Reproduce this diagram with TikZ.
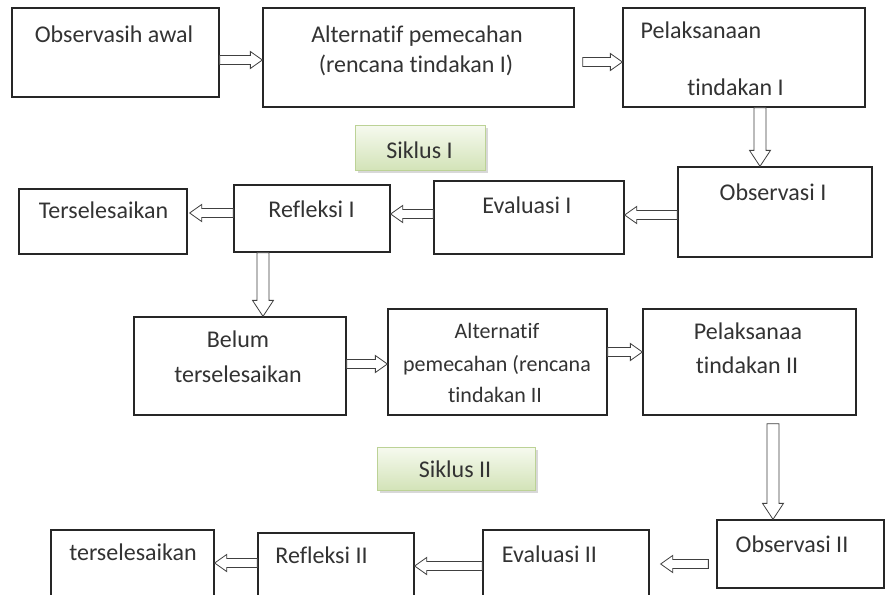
\documentclass[tikz,border=0pt]{standalone}
\usepackage{fontspec}
\setmainfont{Carlito}[Ligatures={NoCommon,NoRequired,NoContextual}]
\usetikzlibrary{calc,shadows}

\definecolor{hijauatas}{HTML}{F6FAEF}
\definecolor{hijaubawah}{HTML}{D3E3B8}
\definecolor{hijaugaris}{HTML}{BCD296}

\tikzset{
  kotak/.style={draw=black!85, line width=1.3pt, inner sep=0pt},
  siklus/.style={draw=hijaugaris, line width=1pt, top color=hijauatas,
    bottom color=hijaubawah, inner sep=0pt,
    drop shadow={shadow xshift=3pt, shadow yshift=-3pt, opacity=0.3}},
  teks/.style={anchor=base, inner sep=0pt, text=black!80,
    font=\fontsize{24}{29}\selectfont},
  tekskecil/.style={teks, font=\fontsize{22}{26}\selectfont},
  % hollow block arrow: half shaft, half head, head length
  panah/.style n args={3}{draw=black!75, fill=white, line width=0.8pt,
    to path={let \p1=($(\tikztotarget)!#3!(\tikztostart)$) in
      ($(\tikztostart)!#1!90:(\tikztotarget)$) -- ($(\p1)!#1!90:(\tikztotarget)$)
      -- ($(\p1)!#2!90:(\tikztotarget)$) -- (\tikztotarget)
      -- ($(\p1)!#2!-90:(\tikztotarget)$) -- ($(\p1)!#1!-90:(\tikztotarget)$)
      -- ($(\tikztostart)!#1!-90:(\tikztotarget)$) -- cycle}},
  panahh/.style={panah={4.5pt}{8.5pt}{12pt}},
  panahv/.style={panah={6pt}{10.5pt}{16pt}},
}

\begin{document}
\begin{tikzpicture}[x=1pt,y=-1pt]
    \clip (0,0) rectangle (885,594);
    \fill[white] (0,0) rectangle (885,594);

    % Siklus I boxes
    \node[kotak, minimum width=207pt, minimum height=89pt] (awal) at (115.5,52.5) {};
    \node[kotak, minimum width=311pt, minimum height=99pt] (alt1) at (418.5,57.5) {};
    \node[kotak, minimum width=242pt, minimum height=99pt] (pel1) at (744,57.5) {};
    \node[siklus, minimum width=130pt, minimum height=45pt] (sik1) at (420,147.5) {};
    \node[kotak, minimum width=168pt, minimum height=65pt] (sel1) at (103,221.5) {};
    \node[kotak, minimum width=156pt, minimum height=67pt] (ref1) at (312,218.5) {};
    \node[kotak, minimum width=190pt, minimum height=73pt] (eval1) at (529,217.5) {};
    \node[kotak, minimum width=194pt, minimum height=90pt] (obs1) at (775,212) {};

    % Siklus II boxes
    \node[kotak, minimum width=212pt, minimum height=98pt] (belum) at (240,366) {};
    \node[kotak, minimum width=219pt, minimum height=106pt] (alt2) at (497.5,362) {};
    \node[kotak, minimum width=213pt, minimum height=106pt] (pel2) at (749.5,362) {};
    \node[siklus, minimum width=158pt, minimum height=43pt] (sik2) at (456,468.5) {};
    \node[kotak, minimum width=163pt, minimum height=90pt] (sel2) at (132.5,575) {};
    \node[kotak, minimum width=156pt, minimum height=90pt] (ref2) at (336,578) {};
    \node[kotak, minimum width=166pt, minimum height=90pt] (eval2) at (566,575) {};
    \node[kotak, minimum width=167pt, minimum height=68pt] (obs2) at (800.5,554) {};

    % Texts
    \node[teks] (awal-t) at (114,42) {Observasih awal};
    \node[teks] (alt1-a) at (417,42) {Alternatif pemecahan};
    \node[teks] (alt1-b) at (416,72) {(rencana tindakan I)};
    \node[teks] (pel1-a) at (701,38) {Pelaksanaan};
    \node[teks] (pel1-b) at (735.5,95) {tindakan I};
    \node[teks] (sik1-t) at (419.5,158) {Siklus I};
    \node[teks] (sel1-t) at (103.5,218) {Terselesaikan};
    \node[teks] (ref1-t) at (311.5,217) {Refleksi I};
    \node[teks] (eval1-t) at (527,213) {Evaluasi I};
    \node[teks] (obs1-t) at (773,200) {Observasi I};
    \node[teks] (belum-a) at (238,347) {Belum};
    \node[teks] (belum-b) at (238,382) {terselesaikan};
    \node[tekskecil] (alt2-a) at (497,338) {Alternatif};
    \node[tekskecil] (alt2-b) at (497,371) {pemecahan (rencana};
    \node[tekskecil] (alt2-c) at (495,402) {tindakan II};
    \node[teks] (pel2-a) at (748,339) {Pelaksanaa};
    \node[teks] (pel2-b) at (747,373) {tindakan II};
    \node[teks] (sik2-t) at (455,477) {Siklus II};
    \node[teks] (sel2-t) at (133,560) {terselesaikan};
    \node[teks] (ref2-t) at (321.5,563) {Refleksi II};
    \node[teks] (eval2-t) at (549.5,562) {Evaluasi II};
    \node[teks] (obs2-t) at (792,552) {Observasi II};

    % Arrows, Siklus I
    \draw[panahh] ($(awal.east)+(0,7.5)$) to ($(alt1.west)+(0,2.5)$);
    \draw[panahh] ($(alt1.east)+(8,4.5)$) to ($(pel1.west)+(0,4.5)$);
    \draw[panahv] ($(pel1.south)+(16,0)$) to ($(obs1.north)+(-15,0)$);
    \draw[panahh] ($(obs1.west)+(0,3)$) to ($(eval1.east)+(0,-2.5)$);
    \draw[panahh] ($(eval1.west)+(0,-3.5)$) to ($(ref1.east)+(0,-4.5)$);
    \draw[panahh] ($(ref1.west)+(0,-5.5)$) to ($(sel1.east)+(2,-8.5)$);
    \draw[panahv] ($(ref1.south)+(-49,0)$) to ($(belum.north)+(23,0)$);

    % Arrows, Siklus II
    \draw[panahh] ($(belum.east)+(0,-2)$) to ($(alt2.west)+(0,2)$);
    \draw[panahh] ($(alt2.east)+(0,-10)$) to ($(pel2.west)+(0,-10)$);
    \draw[panahv] ($(pel2.south)+(23.5,8)$) to ($(obs2.north)+(-27.5,0)$);
    \draw[panahh] ($(obs2.west)+(-8,10)$) to ($(eval2.east)+(11,-11)$);
    \draw[panahh] ($(eval2.west)+(0,-9)$) to ($(ref2.east)+(0,-12)$);
    \draw[panahh] ($(ref2.west)+(0,-15)$) to ($(sel2.east)+(0,-12)$);
\end{tikzpicture}
\end{document}
